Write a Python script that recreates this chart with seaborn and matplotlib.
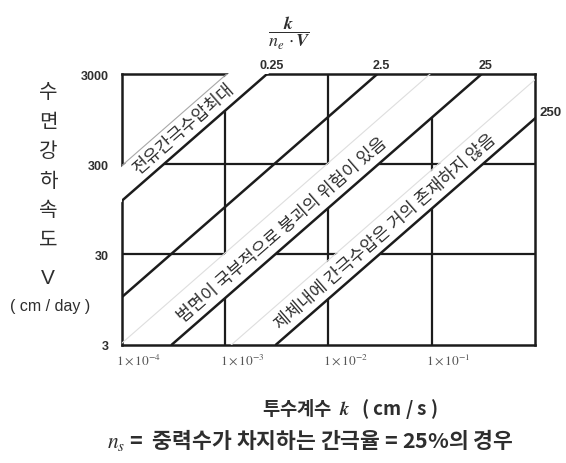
import math

import matplotlib
matplotlib.use("Agg")
import matplotlib.pyplot as plt
import numpy as np
import pandas as pd
import seaborn as sns
from matplotlib.patches import Rectangle
from matplotlib.transforms import ScaledTranslation

# axes: permeability k (cm/s) vs drawdown rate V (cm/day)
k_ticks = [1e-4, 1e-3, 1e-2, 1e-1]
k_tick_labels = [r"$1\times10^{-4}$", r"$1\times10^{-3}$",
                 r"$1\times10^{-2}$", r"$1\times10^{-1}$"]
v_ticks = [3, 30, 300, 3000]
v_tick_labels = ["3", "30", "300", "3000"]

# lines of constant k / (n_e * V): k at which each line meets V = 3000
ratio_labels = ["0.25", "2.5", "25", "250"]
ratio_k_top = [2.55e-3, 2.98e-2, 3.05e-1, 3.11]

# text zones, each lying just above-left of one ratio line
zone_texts = ["전유간극수압최대",
              "범면이 국부적으로 붕괴의 위험이 있음",
              "제체내에 간극수압은 거의 존재하지 않음"]
zone_line = [0, 2, 3]
zone_width = [0.39, 0.5, 0.43]          # band width, decades of k
zone_text_offset = [0.2, 0.21, 0.2]     # text centre, decades left of the line
zone_center_logk = [-3.4, -2.45, -1.45]

INK = "#1c1c1c"
TXT = "#2e2e2e"
W, H = 566, 464

sns.set_theme(style="white")
plt.rcParams["font.family"] = ["Noto Sans CJK KR", "DejaVu Sans"]
plt.rcParams["mathtext.fontset"] = "stix"

fig = plt.figure(figsize=(W / 100, H / 100), dpi=100)
left, right, top, bottom = 121.7, 535, 75, 345.7
ax = fig.add_axes([left / W, 1 - bottom / H, (right - left) / W, (bottom - top) / H])
ax.set_xscale("log")
ax.set_yscale("log")
ax.set_xlim(1e-4, 1)
ax.set_ylim(v_ticks[0], v_ticks[-1])

# grid
for k in k_ticks[1:]:
    ax.axvline(k, color=INK, lw=1.6, zorder=1)
for v in v_ticks[1:-1]:
    ax.axhline(v, color=INK, lw=1.6, zorder=1)

# white bands that cut the grid, with a faint upper edge
vv = np.array([v_ticks[0] / 1.2, v_ticks[-1] * 1.2])
clip = Rectangle((-0.012, -0.012), 1.024, 1.024, transform=ax.transAxes)
for i, li in enumerate(zone_line):
    kt = ratio_k_top[li]
    shift = 10 ** -zone_width[i]
    k_line = kt * vv / v_ticks[-1]
    band = ax.fill_betweenx(vv, k_line * shift, k_line, color="white", lw=0,
                            zorder=3 if i == 0 else 1.5)
    if i == 0:
        band.set_clip_path(clip)
    ax.plot(k_line * shift, vv, color="#a8a8a8" if i == 0 else "#dedede",
            lw=0.8, zorder=4)

# constant-ratio lines
lines = pd.DataFrame({
    "ratio": np.repeat(ratio_labels, 2),
    "k": [kt * f for kt in ratio_k_top for f in (v_ticks[0] / v_ticks[-1], 1.0)],
    "V": [v_ticks[0], v_ticks[-1]] * len(ratio_labels),
})
sns.lineplot(data=lines, x="k", y="V", units="ratio", estimator=None,
             color=INK, lw=1.8, zorder=4, ax=ax, legend=False)
ax.set_xlim(1e-4, 1)
ax.set_ylim(v_ticks[0], v_ticks[-1])
ax.set_xlabel("")
ax.set_ylabel("")

for s in ax.spines.values():
    s.set_color(INK)
    s.set_linewidth(1.8)
    s.set_zorder(2.5)

# ticks
ax.set_xticks(k_ticks, k_tick_labels)
ax.set_yticks(v_ticks, v_tick_labels)
ax.minorticks_off()
ax.tick_params(length=0)
ax.tick_params(axis="x", pad=5, labelsize=9.5, labelcolor="#555555")
ax.tick_params(axis="y", pad=9, labelsize=9, labelcolor=TXT)
for lab in ax.get_yticklabels():
    lab.set_fontfamily("Liberation Sans")
    lab.set_fontweight("bold")
shift_x = ScaledTranslation(17 / 100, 0, fig.dpi_scale_trans)
for lab in ax.get_xticklabels():
    lab.set_transform(lab.get_transform() + shift_x)

# ratio labels along the top and right
for lab, kt in zip(ratio_labels[:-1], ratio_k_top[:-1]):
    ax.annotate(lab, (kt, v_ticks[-1]), xytext=(3, 2.5), textcoords="offset points",
                ha="center", va="bottom", fontsize=9, fontweight="bold",
                color=TXT, family="Liberation Sans", annotation_clip=False)
v_right = v_ticks[-1] / ratio_k_top[-1]
ax.annotate(ratio_labels[-1], (1.0, v_right), xytext=(3, 5), textcoords="offset points",
            ha="left", va="center", fontsize=9.5, fontweight="bold",
            color=TXT, family="Liberation Sans", annotation_clip=False)

# zone texts, rotated along the lines
p = ax.transData.transform([(1e-3, 3), (1e-2, 30)])
angle = math.degrees(math.atan2(p[1][1] - p[0][1], p[1][0] - p[0][0]))
for i, li in enumerate(zone_line):
    kt = ratio_k_top[li]
    kc = 10 ** zone_center_logk[i]
    vc = v_ticks[-1] * kc * 10 ** zone_text_offset[i] / kt
    ax.text(kc, vc, zone_texts[i], rotation=angle, rotation_mode="anchor",
            ha="center", va="center", fontsize=12.5, color=TXT, zorder=5)

# upper axis title (fraction)
fig.text(289 / W, 1 - 33 / H,
         r"$\dfrac{\boldsymbol{k}}{\boldsymbol{n_e}\,\cdot\boldsymbol{V}}$",
         ha="center", va="center", fontsize=13, color=TXT)

# vertical y-axis title
for i, ch in enumerate("수면강하속도"):
    fig.text(48 / W, 1 - (93 + i * 29.4) / H, ch, ha="center", va="center",
             fontsize=14.5, color=TXT)
fig.text(48 / W, 1 - 278 / H, "V", ha="center", va="center", fontsize=15,
         color=TXT, family="Liberation Sans")
fig.text(50 / W, 1 - 307 / H, "( cm / day )", ha="center", va="center",
         fontsize=11.5, color=TXT, family="Liberation Sans")

# x-axis title and footnote
fig.text(350 / W, 1 - 409 / H, r"투수계수  $\boldsymbol{k}$   ( cm / s )",
         ha="center", va="center", fontsize=13.5, fontweight="bold", color=TXT)
fig.text(310 / W, 1 - 440 / H, r"$\boldsymbol{n_s}$ =  중력수가 차지하는 간극율 = 25%의 경우",
         ha="center", va="center", fontsize=15.5, fontweight="bold", color=TXT)

fig.savefig("out.png", dpi=100)
